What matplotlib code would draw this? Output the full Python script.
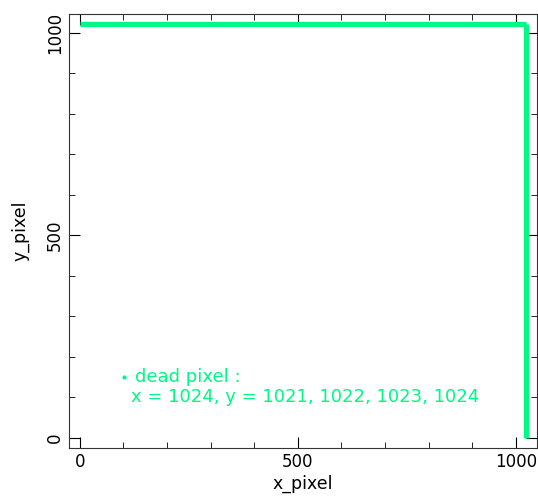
import matplotlib.pyplot as plt
from matplotlib.ticker import MultipleLocator

# dead pixel row / column on the detector (pixel coords)
row_x = [0, 1024]
row_y = [1021, 1021]
col_x = [1024, 1024]
col_y = [0, 1021]

note_title = "dead pixel :"
note_text = "x = 1024, y = 1021, 1022, 1023, 1024"

green = '#00f884'

fig = plt.figure(figsize=(5.38, 4.97), dpi=100)
ax = fig.add_axes([0.128, 0.099, 0.87, 0.873])

ax.plot(row_x, row_y, color=green, lw=3.8, solid_capstyle='butt')
ax.plot(col_x, col_y, color=green, lw=3.8, solid_capstyle='butt')

ax.plot([101], [149], marker='o', ms=3, color=green, mec='none')
ax.text(127, 149, note_title, color=green, fontsize=13, va='center')
ax.text(117, 101, note_text, color=green, fontsize=13, va='center')

ax.set_xlim(-25, 1048)
ax.set_ylim(-25, 1047)
ax.xaxis.set_major_locator(MultipleLocator(500))
ax.xaxis.set_minor_locator(MultipleLocator(100))
ax.yaxis.set_major_locator(MultipleLocator(500))
ax.yaxis.set_minor_locator(MultipleLocator(100))
ax.tick_params(which='both', direction='in', top=True, right=True, labelsize=12)
ax.tick_params(which='major', length=8)
ax.tick_params(which='minor', length=4)
for lab in ax.get_yticklabels():
    lab.set_rotation(90)
    lab.set_va('center')
for side in ax.spines.values():
    side.set_color('#333333')

ax.set_xlabel('x_pixel', fontsize=12.5, labelpad=3)
ax.set_ylabel('y_pixel', fontsize=12.5, labelpad=12)

fig.savefig('out.png', dpi=100)
